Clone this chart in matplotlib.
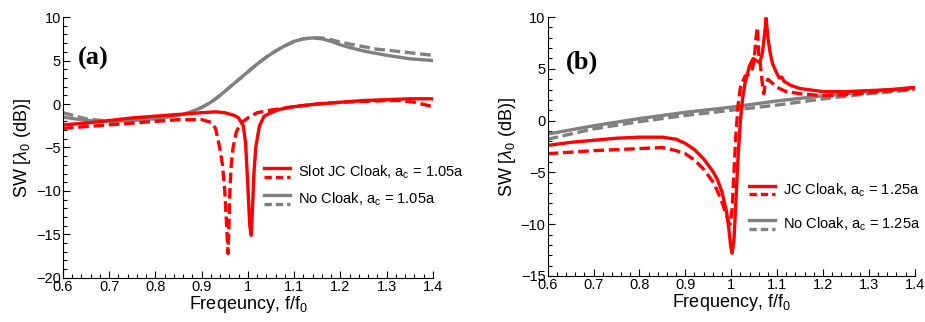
import matplotlib
matplotlib.use("Agg")
import matplotlib.pyplot as plt
from matplotlib.lines import Line2D
from matplotlib.ticker import MultipleLocator

plt.rcParams['font.family'] = ['Liberation Sans', 'DejaVu Sans']
plt.rcParams['mathtext.fontset'] = 'custom'
plt.rcParams['mathtext.rm'] = 'Liberation Sans'
plt.rcParams['mathtext.it'] = 'Liberation Sans:italic'

# ---- panel (a) data ----
a_red_solid_x = [0.6, 0.65, 0.7, 0.75, 0.8, 0.85, 0.9, 0.93, 0.95, 0.97, 0.98, 0.99,
                 0.995, 1.0, 1.004, 1.007, 1.01, 1.013, 1.017, 1.025, 1.035, 1.05,
                 1.07, 1.1, 1.15, 1.2, 1.25, 1.3, 1.35, 1.4]
a_red_solid_y = [-2.4, -2.2, -1.9, -1.6, -1.4, -1.2, -1.0, -0.9, -1.0, -1.3, -1.6, -2.5,
                 -4.5, -9.5, -14.0, -15.1, -12.0, -8.0, -5.0, -2.5, -1.4, -1.0,
                 -0.6, -0.3, 0.0, 0.2, 0.4, 0.5, 0.6, 0.6]
a_red_dash_x = [0.6, 0.7, 0.8, 0.85, 0.9, 0.92, 0.93, 0.939, 0.945, 0.95, 0.954, 0.957,
                0.959, 0.961, 0.964, 0.968, 0.975, 0.985, 1.0, 1.02, 1.05, 1.1, 1.15,
                1.2, 1.3, 1.33, 1.36, 1.4]
a_red_dash_y = [-2.8, -2.4, -2.0, -1.8, -1.8, -2.1, -2.8, -5.0, -7.0, -10.0, -14.0, -17.2,
                -14.0, -10.0, -7.0, -5.0, -3.2, -2.2, -1.6, -1.0, -0.7, -0.3, 0.0,
                0.2, 0.4, 0.4, 0.2, -0.3]
a_gray_solid_x = [0.6, 0.65, 0.7, 0.75, 0.8, 0.84, 0.86, 0.88, 0.9, 0.92, 0.94, 0.96,
                  0.98, 1.0, 1.02, 1.04, 1.06, 1.08, 1.1, 1.12, 1.14, 1.16, 1.18, 1.2,
                  1.22, 1.25, 1.28, 1.3, 1.35, 1.4]
a_gray_solid_y = [-1.5, -1.9, -2.0, -1.9, -1.7, -1.4, -1.2, -0.85, -0.4, 0.2, 1.0, 1.9,
                  2.8, 3.7, 4.6, 5.4, 6.1, 6.7, 7.2, 7.5, 7.6, 7.5, 7.2, 6.8,
                  6.5, 6.1, 5.8, 5.6, 5.2, 5.0]
a_gray_dash_x = [0.6, 0.65, 0.7, 0.75, 0.8, 0.84, 0.86, 0.88, 0.9, 0.92, 0.94, 0.96,
                 0.98, 1.0, 1.02, 1.04, 1.06, 1.08, 1.1, 1.12, 1.14, 1.16, 1.18, 1.2,
                 1.22, 1.25, 1.28, 1.3, 1.35, 1.4]
a_gray_dash_y = [-1.0, -1.7, -2.0, -1.9, -1.7, -1.4, -1.2, -0.85, -0.4, 0.2, 1.0, 1.9,
                 2.8, 3.7, 4.6, 5.4, 6.1, 6.7, 7.2, 7.5, 7.6, 7.6, 7.4, 7.1,
                 6.9, 6.6, 6.3, 6.2, 5.9, 5.6]

# ---- panel (b) data ----
b_red_solid_x = [0.6, 0.65, 0.7, 0.75, 0.8, 0.85, 0.88, 0.9, 0.92, 0.94, 0.96, 0.97,
                 0.98, 0.99, 0.995, 0.999, 1.002, 1.006, 1.01, 1.015, 1.02, 1.025, 1.03,
                 1.04, 1.048, 1.055, 1.062, 1.068, 1.073, 1.076, 1.08, 1.085, 1.09,
                 1.1, 1.105, 1.11, 1.115, 1.13, 1.15, 1.2, 1.25, 1.3, 1.35, 1.4]
b_red_solid_y = [-2.4, -2.1, -1.9, -1.7, -1.6, -1.6, -1.8, -2.2, -2.8, -3.7, -4.9, -5.7,
                 -6.9, -8.8, -10.5, -12.2, -12.8, -11.5, -8.0, -3.5, 0.0, 2.2, 3.6,
                 5.3, 6.0, 5.8, 5.6, 6.5, 8.5, 9.9, 8.0, 6.5, 5.5,
                 4.5, 4.1, 4.2, 3.8, 3.4, 3.1, 2.8, 2.8, 2.9, 3.0, 3.2]
b_red_dash_x = [0.6, 0.7, 0.8, 0.85, 0.88, 0.9, 0.92, 0.94, 0.96, 0.97, 0.98, 0.99,
                0.994, 0.998, 1.002, 1.006, 1.01, 1.015, 1.02, 1.03, 1.04, 1.045, 1.05,
                1.054, 1.057, 1.06, 1.064, 1.068, 1.071, 1.074, 1.08, 1.09, 1.1, 1.12,
                1.15, 1.2, 1.25, 1.3, 1.35, 1.4]
b_red_dash_y = [-3.2, -2.9, -2.7, -2.6, -2.9, -3.2, -3.8, -4.7, -5.9, -6.8, -7.9, -9.2,
                -9.8, -10.0, -8.5, -5.0, -1.5, 1.5, 3.2, 4.3, 4.5, 4.8, 5.8,
                8.0, 9.0, 6.5, 5.2, 3.5, 2.6, 3.5, 4.0, 3.6, 3.2, 2.8,
                2.6, 2.4, 2.5, 2.7, 2.9, 3.1]
b_gray_solid_x = [0.6, 0.7, 0.8, 0.9, 1.0, 1.1, 1.2, 1.3, 1.4]
b_gray_solid_y = [-1.3, -0.5, 0.2, 0.8, 1.3, 1.9, 2.4, 2.8, 3.2]
b_gray_dash_x = [0.6, 0.7, 0.8, 0.9, 1.0, 1.1, 1.2, 1.3, 1.4]
b_gray_dash_y = [-1.8, -0.8, -0.1, 0.5, 1.0, 1.5, 2.1, 2.6, 3.0]

RED = '#ff0000'
GRAY = '#808080'
LW = 2.4
DASH = (3.2, 1.4)

fig = plt.figure(figsize=(9.25, 3.22), dpi=100)
ax_a = fig.add_axes([0.068, 0.137, 0.400, 0.810])
ax_b = fig.add_axes([0.592, 0.143, 0.397, 0.804])


def style_axis(ax, ylo, yhi):
    ax.set_xlim(0.6, 1.4)
    ax.set_ylim(ylo, yhi)
    ax.spines['top'].set_visible(False)
    ax.spines['right'].set_visible(False)
    ax.xaxis.set_major_locator(MultipleLocator(0.1))
    ax.xaxis.set_minor_locator(MultipleLocator(0.02))
    ax.yaxis.set_major_locator(MultipleLocator(5))
    ax.yaxis.set_minor_locator(MultipleLocator(1))
    ax.tick_params(which='both', direction='in', labelsize=10.5, pad=1.5)
    ax.tick_params(which='major', length=5, width=0.8)
    ax.tick_params(which='minor', length=3, width=0.8)
    ax.set_xticklabels([f"{v:g}" for v in ax.get_xticks()])


# ---- (a) ----
ax_a.plot(a_gray_solid_x, a_gray_solid_y, color=GRAY, lw=LW)
ax_a.plot(a_gray_dash_x, a_gray_dash_y, color=GRAY, lw=LW, dashes=DASH)
ax_a.plot(a_red_solid_x, a_red_solid_y, color=RED, lw=LW)
ax_a.plot(a_red_dash_x, a_red_dash_y, color=RED, lw=LW, dashes=DASH)
style_axis(ax_a, -20, 10)
ax_a.set_xlabel('Freqeuncy, f/f$_0$', fontsize=13, labelpad=0)
ax_a.set_ylabel(r'SW [$\lambda_0$ (dB)]', fontsize=13, labelpad=2)
fig.text(78 / 925, 1 - 58 / 322, '(a)', family='Liberation Serif', weight='bold',
         fontsize=19, va='center', ha='left')

# ---- (b) ----
ax_b.plot(b_gray_solid_x, b_gray_solid_y, color=GRAY, lw=LW)
ax_b.plot(b_gray_dash_x, b_gray_dash_y, color=GRAY, lw=LW, dashes=DASH)
ax_b.plot(b_red_solid_x, b_red_solid_y, color=RED, lw=LW)
ax_b.plot(b_red_dash_x, b_red_dash_y, color=RED, lw=LW, dashes=DASH)
style_axis(ax_b, -15, 10)
ax_b.set_xlabel('Frequency, f/f$_0$', fontsize=13, labelpad=0)
ax_b.set_ylabel(r'SW [$\lambda_0$ (dB)]', fontsize=13, labelpad=2)
fig.text(566 / 925, 1 - 62 / 322, '(b)', family='Liberation Serif', weight='bold',
         fontsize=19, va='center', ha='left')


# ---- stacked solid/dashed legends (pixel positions in figure) ----
def legend_entry(x0, x1, y_solid, y_dash, color, label):
    for y, ls in ((y_solid, '-'), (y_dash, '--')):
        ln = Line2D([x0 / 925, x1 / 925], [1 - y / 322, 1 - y / 322],
                    transform=fig.transFigure, color=color, lw=LW)
        if ls == '--':
            ln.set_dashes((2.2, 1.2))
        fig.add_artist(ln)
    fig.text((x1 + 8) / 925, 1 - (y_solid + y_dash) / 2 / 322, label,
             fontsize=10.5, va='center', ha='left')


legend_entry(264, 290, 168, 177, RED, 'Slot JC Cloak, a$_\\mathregular{c}$ = 1.05a')
legend_entry(264, 290, 195, 204, GRAY, 'No Cloak, a$_\\mathregular{c}$ = 1.05a')
legend_entry(749, 775, 186, 194, RED, 'JC Cloak, a$_\\mathregular{c}$ = 1.25a')
legend_entry(749, 775, 220, 229, GRAY, 'No Cloak, a$_\\mathregular{c}$ = 1.25a')

fig.savefig('out.png', dpi=100)
